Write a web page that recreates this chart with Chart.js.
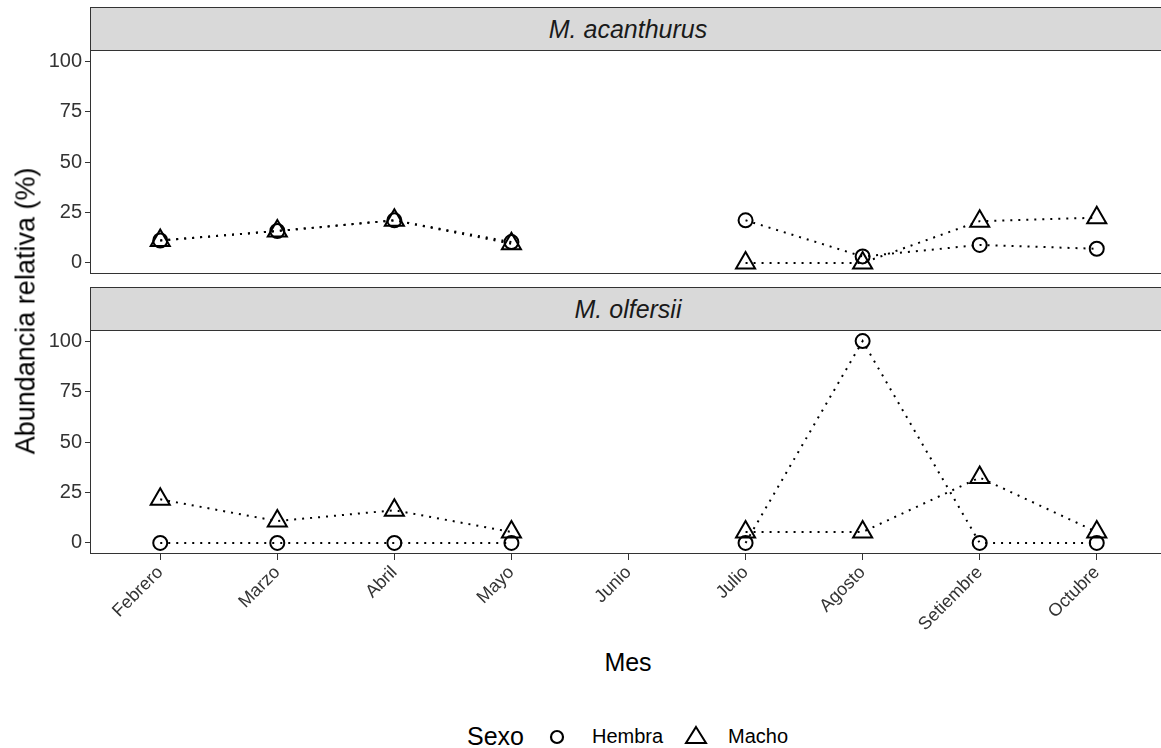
<!DOCTYPE html>
<html>
<head>
<meta charset="utf-8">
<script src="https://cdn.jsdelivr.net/npm/chart.js@4"></script>
<style>
  body { margin: 0; width: 1161px; height: 748px; overflow: hidden; background: #fff; font-family: "Liberation Sans", Arial, sans-serif; position: relative; }
  canvas { position: absolute; left: 0; }
  .strip { position: absolute; left: 90px; width: 1200px; height: 44px; background: #d9d9d9; border: 1px solid #333; box-sizing: border-box; }
  .striptext { position: absolute; width: 400px; left: 428px; text-align: center; font-style: italic; font-size: 25px; line-height: 30px; color: #1a1a1a; }
  .box { position: absolute; left: 90px; width: 1200px; border: 1px solid #333; border-top: none; box-sizing: border-box; pointer-events: none; }
  .lab { position: absolute; color: #000; white-space: nowrap; }
</style>
</head>
<body>
<div class="strip" style="top:7px"></div>
<div class="striptext" style="top:14px">M. acanthurus</div>
<div class="strip" style="top:287px"></div>
<div class="striptext" style="top:294px">M. olfersii</div>

<canvas id="panel1" width="1167" height="222" style="top:51px"></canvas>
<canvas id="panel2" width="1167" height="302" style="top:331px"></canvas>
<div class="box" style="top:50px; height:224px"></div>
<div class="box" style="top:330px; height:224px"></div>

<div class="lab" style="left:26px; top:311px; font-size:27px; transform: translate(-50%,-50%) rotate(-90deg);">Abundancia relativa (%)</div>
<div class="lab" style="left:628px; top:662px; font-size:25px; transform: translate(-50%,-50%);">Mes</div>

<div class="lab" style="left:467px; top:722px; font-size:25px;">Sexo</div>
<svg class="lab" style="left:548px; top:728px" width="18" height="18"><circle cx="9" cy="9" r="6" fill="none" stroke="#000" stroke-width="2.2"/></svg>
<div class="lab" style="left:592px; top:725px; font-size:20px;">Hembra</div>
<svg class="lab" style="left:684px; top:724px" width="24" height="22"><polygon points="12,3 22,19 2,19" fill="none" stroke="#000" stroke-width="2"/></svg>
<div class="lab" style="left:728px; top:725px; font-size:20px;">Macho</div>

<script>
// Meses y valores (% abundancia relativa)
const meses = ["Febrero", "Marzo", "Abril", "Mayo", "Junio", "Julio", "Agosto", "Setiembre", "Octubre"];

// M. acanthurus
const acanthurusHembra = [11.1, 15.8, 21.1, 10.3, null, 21.1, 3.2, 8.9, 7.0];
const acanthurusMacho  = [11.1, 15.8, 21.1, 9.5, null, 0, 0, 20.7, 22.4];

// M. olfersii
const olfersiiHembra = [0, 0, 0, 0, null, 0, 100, 0, 0];
const olfersiiMacho  = [21.6, 10.8, 16.2, 5.4, null, 5.4, 5.4, 32.4, 5.4];

const yTicks = [0, 25, 50, 75, 100];

Chart.defaults.font.family = "'Liberation Sans', Arial, sans-serif";
Chart.defaults.color = "#333";

function toPoints(vals) {
    return vals.map((v, i) => ({ x: i, y: v }));
}

function makeDataset(label, vals, shape, radius) {
    return {
        label: label,
        data: toPoints(vals),
        borderColor: "#000",
        borderWidth: 2,
        borderDash: [2, 6],
        pointStyle: shape,
        pointRadius: radius,
        pointHoverRadius: radius,
        pointBorderWidth: 2,
        pointBorderColor: "#000",
        pointBackgroundColor: "rgba(0,0,0,0)",
        spanGaps: false,
        clip: false,
        tension: 0
    };
}

// no extra padding from the tick labels, panels must line up exactly
function noPad(s) {
    s.paddingTop = 0;
    s.paddingBottom = 0;
    s.paddingLeft = 0;
    s.paddingRight = 0;
}

function makePanel(id, hembra, macho, showX) {
    new Chart(document.getElementById(id), {
        type: "line",
        data: {
            datasets: [
                makeDataset("Hembra", hembra, "circle", 7),
                makeDataset("Macho", macho, "triangle", 11)
            ]
        },
        options: {
            responsive: false,
            animation: false,
            events: [],
            layout: { padding: 0, autoPadding: false },
            plugins: { legend: { display: false }, tooltip: { enabled: false } },
            scales: {
                x: {
                    type: "linear",
                    display: showX,
                    min: -0.6,
                    max: 8.6,
                    afterBuildTicks: (s) => { s.ticks = meses.map((m, i) => ({ value: i })); },
                    afterFit: (s) => { s.height = showX ? 80 : 0; noPad(s); },
                    grid: { drawOnChartArea: false, drawTicks: true, tickLength: 7, color: "#333" },
                    border: { display: false },
                    ticks: {
                        autoSkip: false,
                        minRotation: 45,
                        maxRotation: 45,
                        padding: 2,
                        color: "#333",
                        font: { size: 18 },
                        callback: (v) => meses[v]
                    }
                },
                y: {
                    min: -5,
                    max: 105,
                    afterBuildTicks: (s) => { s.ticks = yTicks.map(v => ({ value: v })); },
                    afterFit: (s) => { s.width = 90; noPad(s); },
                    grid: { drawOnChartArea: false, drawTicks: true, tickLength: 5, color: "#333" },
                    border: { display: false },
                    ticks: { color: "#333", font: { size: 20 }, padding: 3 }
                }
            }
        }
    });
}

makePanel("panel1", acanthurusHembra, acanthurusMacho, false);
makePanel("panel2", olfersiiHembra, olfersiiMacho, true);
</script>
</body>
</html>
